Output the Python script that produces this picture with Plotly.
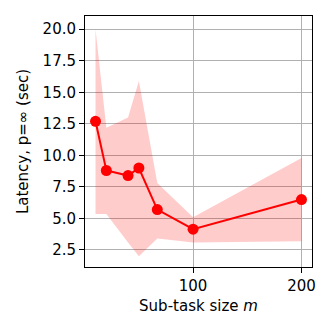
import plotly.graph_objects as go

# sub-task sizes and measured latency
sizes = [10, 20, 40, 50, 67, 100, 200]
latency = [12.7, 8.8, 8.4, 9.0, 5.7, 4.15, 6.5]
lat_hi = [20.0, 12.2, 13.0, 15.9, 7.8, 5.1, 9.8]
lat_lo = [5.35, 5.35, 3.1, 2.0, 3.4, 3.1, 3.2]

fig = go.Figure()

fig.add_trace(go.Scatter(
    x=sizes, y=lat_lo, mode="lines",
    line=dict(width=0, color="rgba(255,0,0,0)"),
    hoverinfo="skip",
))
fig.add_trace(go.Scatter(
    x=sizes, y=lat_hi, mode="lines",
    line=dict(width=0, color="rgba(255,0,0,0)"),
    fill="tonexty", fillcolor="rgba(255,0,0,0.2)",
    hoverinfo="skip",
))
fig.add_trace(go.Scatter(
    x=sizes, y=latency, mode="lines+markers",
    line=dict(color="red", width=2),
    marker=dict(color="red", size=11),
))

axis_common = dict(
    showgrid=True, gridcolor="#b0b0b0", gridwidth=1,
    showline=True, linecolor="black", linewidth=1, mirror=True,
    ticks="outside", ticklen=5, tickcolor="black",
    tickfont=dict(size=15, color="black"),
    zeroline=False, automargin=False,
)

# page body adds an 8px offset, so the figure is a bit smaller than the window
fig.update_layout(
    width=324, height=324,
    margin=dict(l=77, r=20, t=8, b=65),
    paper_bgcolor="white", plot_bgcolor="white",
    font=dict(family="DejaVu Sans", color="black"),
    showlegend=False,
    xaxis=dict(
        axis_common, range=[0.3, 209.7],
        tickvals=[100, 200],
        title=dict(text="Sub-task size <i>m</i>", font=dict(size=15), standoff=6),
    ),
    yaxis=dict(
        axis_common, range=[1.15, 21.05],
        tickvals=[2.5, 5, 7.5, 10, 12.5, 15, 17.5, 20],
        ticktext=["2.5", "5.0", "7.5", "10.0", "12.5", "15.0", "17.5", "20.0"],
        title=dict(text="Latency, p=∞ (sec)", font=dict(size=15), standoff=10),
    ),
)

fig.write_html("out.html")
